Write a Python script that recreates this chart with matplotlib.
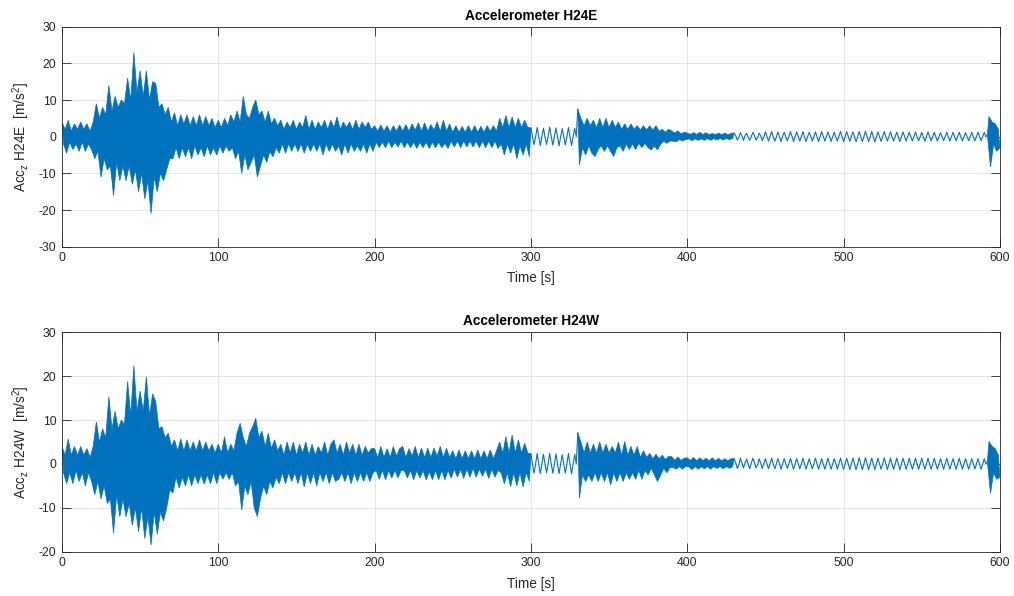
"""Vertical acceleration at the two H24 accelerometers (east / west), 0-600 s.

Signals are the local peak/trough sequence read off the record at 1 s steps.
"""

import numpy as np
import matplotlib

matplotlib.use("Agg")
import matplotlib.pyplot as plt  # noqa: E402

# ---- H24E, one value per second, split per 100 s -----------------------------
e_000 = [4, -2, 2, -4.5, 4.5, -1.5, 1.5, -3.5, 3.5, -2,
         2, -4, 4, -1.5, 2, -4, 3.5, -2, 1.5, -3.5,
         4, -6, 9, -4, 5, -11, 8, -6, 6, -9,
         14, -8, 7, -16, 11, -7, 8, -12, 10, -8,
         9, -12, 16, -8, 10, -13, 23, -9, 12, -15,
         18, -10, 11, -17, 18, -12, 10, -21, 15, -11,
         14.5, -15, 8, -10, 9, -12, 6, -9, 8, -6,
         4, -6, 6.5, -3, 3, -6, 6, -3, 3.5, -5.5,
         6, -3, 3, -6, 5.5, -2.5, 3, -5, 6, -3,
         3, -5.5, 5.5, -2.5, 3, -5, 5, -3, 2.5, -5]
e_100 = [4.5, -2.5, 2.5, -4.5, 5, -2.5, 3, -4, 6, -3,
         4, -6, 7, -4, 4, -10, 11, -5, 6, -9,
         5, -7, 8, -5, 10, -11, 6, -8, 7, -5,
         4, -7, 7, -4, 3.5, -5.5, 5, -3, 3, -4.5,
         4.5, -2, 2, -4.5, 4, -2, 2.5, -4, 4.5, -2,
         2, -4, 4, -2, 2.5, -4.5, 5.8, -2, 2, -4,
         4.5, -2, 2, -4, 4, -2, 2.5, -5, 4.5, -2,
         2, -4, 4.5, -2, 2.5, -4, 5.4, -2.5, 2, -5,
         4, -2, 2.5, -4.5, 4, -2, 2, -4, 4.5, -2.5,
         2, -4, 4, -2, 2.5, -4.5, 4, -2, 2, -4]
e_200 = [3, -1.5, 1.5, -3, 3.2, -1.5, 1.5, -3, 3, -1.2,
         1.2, -3, 3, -1.5, 1.5, -2.8, 3.2, -1.2, 1.5, -3,
         3.3, -1.5, 1.5, -3, 3.5, -1.5, 1.8, -3.2, 3.8, -1.5,
         1.5, -3, 3.8, -1.5, 1.5, -3.2, 3.3, -1.5, 1.8, -3,
         4, -1.5, 1.5, -3, 4.5, -1.8, 1.5, -3.2, 3.5, -1.2,
         1.2, -2.8, 3, -1.2, 1.2, -3, 2.8, -1.2, 1.2, -2.8,
         3, -1.2, 1.2, -2.8, 3, -1.2, 1.2, -3, 2.8, -1.2,
         1.2, -3, 3, -1.2, 1.5, -3, 3, -1.2, 1.5, -3.2,
         5, -2, 2.5, -5, 5.8, -2, 2.5, -4.5, 5.4, -2,
         2.5, -6, 5, -2.5, 2.5, -5, 4.5, -2, 2.5, -5.5]
e_300 = [2.4, 0, -2.2, 0, 2.5, 0, -2.4, 0, 2.3, 0,
         -2.1, 0, 2.6, 0, -2.3, 0, 2.4, 0, -2.5, 0,
         2.2, 0, -2.2, 0, 2.5, 0, -2.4, 0, 2.3, 0,
         7.5, -7.7, 5, -3, 3, -5, 5, -2.5, 3, -4.5,
         4.5, -5.4, 2.5, -3.5, 5, -2.5, 2.5, -4, 5, -2.5,
         2.5, -4, 4.5, -5.4, 2.5, -3, 4, -2.5, 2, -4,
         3.5, -2, 2, -3.5, 3.5, -2, 2, -3.5, 3, -1.8,
         1.8, -3, 3, -1.8, 1.8, -3, 3, -3.6, 1.8, -2.5,
         3, -3.6, 1.5, -2, 2, -1.2, 1.2, -1.8, 2, -1.2,
         1.6, -1.2, 1.0, -1.4, 1.6, -0.8, 0.8, -1.2, 1.2, -0.8]
e_400 = [1.0, -0.6, 0.6, -1.1, 1.1, -0.6, 0.6, -1.0, 1.2, -0.6,
         0.6, -1.0, 1.1, -0.5, 0.5, -1.0, 0.9, -0.5, 0.5, -0.9,
         1.0, -0.5, 0.5, -0.9, 1.0, -0.5, 0.5, -0.8, 0.9, -0.5,
         1.0, 0.3, -0.9, -0.2, 1.1, 0.2, -1.0, 0.3, 0.9, -0.2,
         -1.0, 0.1, 1.2, 0.3, -0.9, -0.3, 1.0, 0.2, -1.1, 0.0,
         1.3, 0.0, -1.2, 0.1, 1.4, 0.0, -1.2, -0.1, 1.3, 0.0,
         -1.3, 0.1, 1.2, 0.0, -1.1, 0.0, 1.4, 0.1, -1.3, 0.0,
         1.3, 0.0, -1.2, 0.0, 1.4, -0.1, -1.3, 0.0, 1.2, 0.1,
         -1.2, 0.0, 1.3, 0.0, -1.3, 0.0, 1.4, 0.1, -1.2, 0.0,
         1.3, 0.0, -1.3, 0.0, 1.2, 0.0, -1.2, 0.1, 1.4, 0.0]
e_500 = [-1.3, 0.0, 1.4, 0.0, -1.3, 0.1, 1.3, 0.0, -1.4, 0.0,
         1.4, 0.0, -1.3, 0.0, 1.5, 0.1, -1.3, 0.0, 1.4, 0.0,
         -1.4, 0.0, 1.3, 0.0, -1.3, 0.0, 1.4, 0.1, -1.2, 0.0,
         1.3, 0.0, -1.2, 0.0, 1.2, 0.0, -1.3, 0.0, 1.3, 0.1,
         -1.2, 0.0, 1.2, 0.0, -1.2, 0.0, 1.3, 0.0, -1.1, 0.0,
         1.2, 0.0, -1.2, 0.0, 1.3, 0.0, -1.1, 0.0, 1.2, 0.0,
         -1.2, 0.0, 1.1, 0.0, -1.1, 0.0, 1.2, 0.0, -1.2, 0.0,
         1.2, 0.0, -1.1, 0.0, 1.2, 0.0, -1.2, 0.0, 1.1, 0.0,
         -1.1, 0.0, 1.2, 0.0, -1.1, 0.0, 1.2, 0.0, -1.1, 0.0,
         1.2, 0.0, 0.5, 5.5, -8.2, 4.0, -2.0, 3.5, -4.0, 2.0,
         -3.0]

# ---- H24W ---------------------------------------------------------------------
w_000 = [4, -2, 2, -4.5, 5.7, -2, 2, -4.5, 4, -1.5,
         2, -4, 4, -2, 2, -5, 3.5, -2, 1.5, -4,
         4, -7, 9.6, -4, 5, -8, 8, -5, 6, -9,
         15.3, -8, 8, -15.8, 12, -7, 8, -12, 10, -8,
         9, -12, 18.8, -9, 11, -14, 22.4, -10, 12, -15.4,
         16.6, -10, 12, -17, 19.9, -12, 11, -18.5, 16, -11,
         14.2, -16, 8, -11, 8.5, -13, 6, -10, 7, -6,
         4, -6.6, 5.5, -3, 3, -5.5, 5.7, -3, 3, -5,
         5.5, -2.5, 3, -5, 5, -2.5, 3, -4.5, 5.5, -2.5,
         3, -4.6, 5, -2.5, 3, -4.5, 4.5, -2, 2.5, -4.5]
w_100 = [4.5, -2, 2.5, -3.5, 6.2, -2, 2.5, -3.5, 4.5, -2,
         3, -5, 7, -4, 9.3, -10.5, 6, -5, 4, -7,
         7, -4, 8.5, -10, 10.4, -12, 6, -8, 7.5, -5,
         4, -7, 7, -4, 3.5, -5.5, 5.5, -3, 3, -4.5,
         4.5, -2, 2, -4.5, 5, -2, 2.5, -4, 5, -2,
         2, -4.5, 4.5, -2, 2.5, -5.2, 5, -2, 2, -4.5,
         4.5, -2, 2, -5, 4, -2, 2.5, -4, 5, -2,
         2, -4.5, 4.5, -2, 5.5, -4, 2.5, -3.5, 4.5, -2,
         2, -4, 5, -2, 2.5, -4.5, 4.5, -2, 2, -4,
         4.5, -2, 2, -4, 4, -2, 2.5, -4, 3.5, -2]
w_200 = [3.5, -1.5, 1.5, -3.5, 4, -1.5, 1.5, -3.6, 3.5, -1.5,
         1.5, -3.2, 4, -1.5, 1.8, -3.2, 3.5, -1.5, 4, -1.5,
         1.5, -3.2, 3.5, -1.5, 1.8, -3.6, 4, -1.5, 1.5, -3.2,
         3.6, -1.5, 1.5, -3.6, 3.6, -1.8, 1.5, -3.6, 3.6, -1.5,
         1.8, -3.6, 4, -1.5, 1.5, -3.6, 3.6, -1.5, 1.5, -3.2,
         3, -1.2, 1.2, -3, 3.2, -1.2, 1.2, -3.3, 3, -1.2,
         1.2, -3, 3, -1, 1.2, -3, 3.2, -1.2, 1.2, -2.8,
         3, -1.2, 1.2, -3.3, 3.2, -1.2, 1.2, -3, 3, -1.5,
         5, -2, 2.5, -4.5, 6.2, -2, 2.5, -5.2, 6.6, -2,
         2.5, -5, 5.5, -2, 2.5, -5.2, 4.7, -2, 2.5, -4]
w_300 = [2.3, 0, -2.1, 0, 2.4, 0, -2.2, 0, 2.2, 0,
         -2.0, 0, 2.4, 0, -2.1, 0, 2.3, 0, -2.2, 0,
         2.1, 0, -2.1, 0, 2.4, 0, -2.2, 0, 2.2, 0,
         7.1, -7.8, 5, -2.5, 2.5, -4, 5, -2.5, 2.5, -4,
         4.5, -2, 2.5, -4, 5, -2, 2.5, -4, 4.5, -2,
         2.5, -4.8, 4, -2, 2.5, -4, 5, -2, 2, -4,
         5.1, -2, 2, -3.5, 4, -2, 2, -3.5, 4, -1.5,
         1.5, -3.5, 3, -1.5, 1.5, -2.5, 2.4, -1, 1.2, -2.5,
         2.2, -4, 1.2, -2.5, 2, -1, 1, -2, 1.7, -0.8,
         1.7, -0.8, 0.8, -1.2, 1.6, -0.6, 0.8, -1.2, 1.3, -0.6]
w_400 = [1.4, -0.6, 0.8, -1.3, 1.5, -0.6, 0.7, -1.2, 1.4, -0.6,
         0.8, -1.1, 1.3, -0.6, 0.7, -1.2, 1.4, -0.6, 0.7, -1.0,
         1.3, -0.6, 0.7, -1.1, 1.2, -0.6, 0.7, -1.0, 1.2, -0.6,
         1.2, 0.3, -1.0, -0.2, 1.3, 0.2, -0.9, 0.3, 1.1, -0.1,
         -1.1, 0.2, 1.3, 0.3, -0.9, -0.2, 1.2, 0.2, -1.0, 0.1,
         1.2, 0.0, -1.1, 0.1, 1.3, 0.0, -1.1, 0.0, 1.2, 0.1,
         -1.2, 0.0, 1.2, 0.1, -1.0, 0.0, 1.3, 0.0, -1.2, 0.0,
         1.2, 0.1, -1.1, 0.0, 1.3, 0.0, -1.2, 0.0, 1.2, 0.0,
         -1.1, 0.0, 1.3, 0.1, -1.2, 0.0, 1.2, 0.0, -1.2, 0.0,
         1.3, 0.0, -1.2, 0.0, 1.2, 0.1, -1.2, 0.0, 1.3, 0.0]
w_500 = [-1.2, 0.0, 1.3, 0.0, -1.3, 0.1, 1.3, 0.0, -1.3, 0.0,
         1.4, 0.0, -1.3, 0.0, 1.4, 0.1, -1.3, 0.0, 1.3, 0.0,
         -1.3, 0.0, 1.3, 0.0, -1.2, 0.0, 1.4, 0.1, -1.3, 0.0,
         1.3, 0.0, -1.2, 0.0, 1.3, 0.0, -1.3, 0.0, 1.3, 0.1,
         -1.2, 0.0, 1.3, 0.0, -1.2, 0.0, 1.3, 0.0, -1.2, 0.0,
         1.3, 0.0, -1.2, 0.0, 1.3, 0.0, -1.2, 0.0, 1.3, 0.0,
         -1.2, 0.0, 1.2, 0.0, -1.2, 0.0, 1.3, 0.0, -1.2, 0.0,
         1.2, 0.0, -1.2, 0.0, 1.3, 0.0, -1.2, 0.0, 1.2, 0.0,
         -1.2, 0.0, 1.2, 0.0, -1.1, 0.0, 1.2, 0.0, -1.2, 0.0,
         1.2, 0.0, 0.5, 5.1, -6.7, 4.0, -2.0, 3.5, -3.5, 2.0,
         -3.0]

E_YTICKS = [-30, -20, -10, 0, 10, 20, 30]
W_YTICKS = [-20, -10, 0, 10, 20, 30]
X_TICKS = [0, 100, 200, 300, 400, 500, 600]
# broadband stretches: the trace fills the band between its peaks and troughs;
# clean low-amplitude oscillations are drawn as a plain line
SPANS = [(0, 300, "band"), (300, 330, "line"), (330, 430, "band"),
         (430, 592, "line"), (592, 600, "band")]

plt.rcParams["font.family"] = ["Liberation Sans", "DejaVu Sans"]
plt.rcParams["axes.unicode_minus"] = False
AX_COLOR = "#262626"
LINE_COLOR = "#0072BD"


def panel(ax, acc, name, yticks, xlab_y):
    acc = np.concatenate(acc)
    t = np.linspace(0, 600, len(acc))
    for t0, t1, kind in SPANS:
        m = (t >= t0) & (t <= t1)
        ts, a = t[m], acc[m]
        if kind == "band":
            up, dn = a > 0, a <= 0
            ax.fill(np.r_[ts[up], ts[dn][::-1]], np.r_[a[up], a[dn][::-1]],
                    color=LINE_COLOR, lw=0.5)
        else:
            ax.plot(ts, a, color=LINE_COLOR, lw=0.8)
    ax.set_xlim(X_TICKS[0], X_TICKS[-1])
    ax.set_ylim(yticks[0], yticks[-1])
    ax.set_xticks(X_TICKS)
    ax.set_yticks(yticks)
    ax.grid(True, color="#DFDFDF", lw=0.6)
    ax.set_axisbelow(True)
    ax.tick_params(direction="in", top=True, right=True, length=6.5, width=0.6,
                   colors=AX_COLOR, labelsize=8.8, pad=4)
    for s in ax.spines.values():
        s.set_color(AX_COLOR)
        s.set_linewidth(0.6)
    ax.set_title(f"Accelerometer {name}", fontsize=9.8, fontweight="bold", pad=5)
    ax.set_xlabel("Time [s]", fontsize=9.8, color=AX_COLOR)
    ax.set_ylabel(rf"Acc$_\mathregular{{z}}$ {name}  [m/s$^\mathregular{{2}}$]",
                  fontsize=9.8, color=AX_COLOR)
    ax.xaxis.set_label_coords(0.5, xlab_y)
    ax.yaxis.set_label_coords(-0.032, 0.5)


def main():
    fig = plt.figure(figsize=(10.14, 5.96), dpi=100)
    ax1 = fig.add_axes([0.0611, 0.5861, 0.9250, 0.3691])
    ax2 = fig.add_axes([0.0611, 0.0743, 0.9250, 0.3681])
    panel(ax1, [e_000, e_100, e_200, e_300, e_400, e_500], "H24E", E_YTICKS, -0.11)
    panel(ax2, [w_000, w_100, w_200, w_300, w_400, w_500], "H24W", W_YTICKS, -0.115)
    fig.savefig("out.png", dpi=100)
    plt.close(fig)


if __name__ == "__main__":
    main()
